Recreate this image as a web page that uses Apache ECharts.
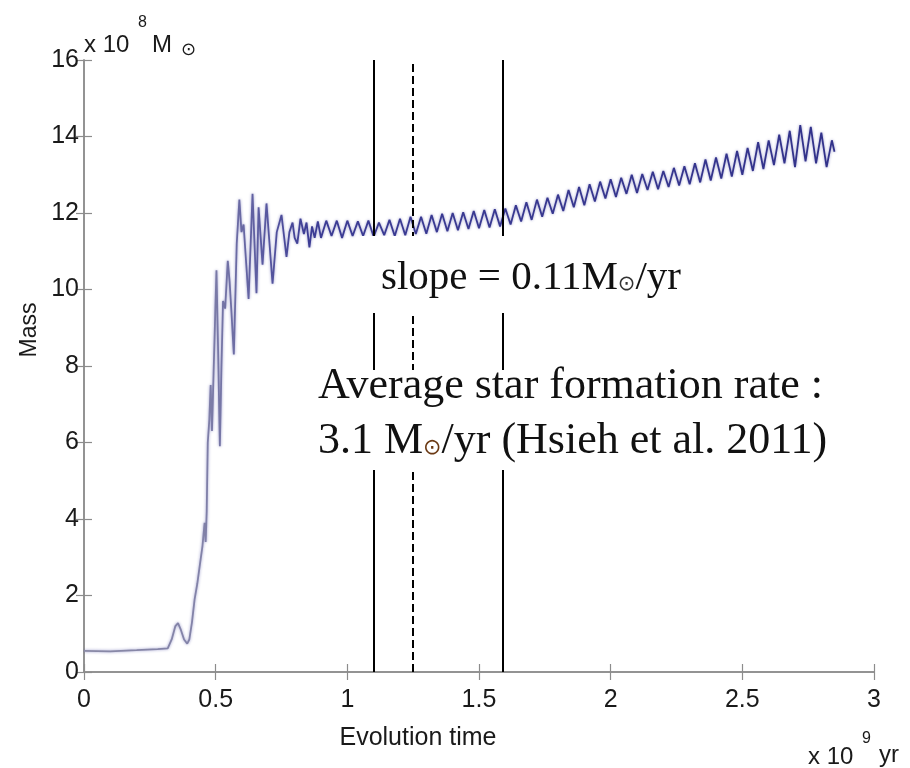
<!DOCTYPE html>
<html><head><meta charset="utf-8">
<script src="https://cdn.jsdelivr.net/npm/echarts@6/dist/echarts.min.js"></script>
<style>html,body{margin:0;padding:0;background:#fff}#c{width:910px;height:768px}</style>
</head><body><div id="c"></div>
<script>
// Evolution time (x 10^9 yr) and mass (x 10^8 Msun)
const riseTime = [0,0.1,0.2,0.28,0.318,0.333,0.347,0.357,0.368,0.38,0.392,0.4,0.41,0.42,0.43,0.44,0.45,0.458,0.462,0.466,0.47,0.476,0.481,0.486,0.492,0.503,0.509,0.516,0.522,0.528,0.536,0.546,0.553,0.56,0.569,0.58,0.59,0.598,0.606,0.625,0.64,0.655,0.663,0.678,0.693,0.716,0.732,0.75,0.769,0.78,0.792,0.80,0.81,0.822,0.835,0.845,0.856,0.866,0.876,0.888];
const riseMass = [0.55,0.54,0.57,0.6,0.62,0.85,1.2,1.28,1.1,0.85,0.74,0.85,1.3,1.9,2.3,2.8,3.3,3.9,3.4,4.2,6.0,6.6,7.5,6.3,7.8,10.5,8.5,5.9,8.0,9.7,9.5,10.75,10.2,9.4,8.3,11.2,12.35,11.5,11.7,9.75,12.5,9.9,12.15,10.65,12.25,10.15,11.5,11.95,10.85,11.5,11.75,11.35,11.2,11.85,11.45,11.75,11.1,11.65,11.35,11.78];

const plateauTime = [0.90,0.92,0.94,0.96,0.98,1.00,1.02,1.04,1.06,1.08,1.10,1.12,1.14,1.16,1.18,1.20,1.22,1.24,1.26,1.28,1.30,1.32,1.34,1.36,1.38,1.40,1.42,1.44,1.46,1.48,1.50,1.52,1.54,1.56,1.58,1.60];
const plateauMass = [11.35,11.8,11.4,11.8,11.35,11.8,11.4,11.78,11.4,11.8,11.38,11.75,11.42,11.82,11.4,11.85,11.42,11.9,11.45,11.9,11.46,11.95,11.5,11.98,11.52,12.0,11.55,12.02,11.58,12.05,11.6,12.08,11.62,12.1,11.65,12.12];

const climbTime = [1.62,1.64,1.66,1.68,1.70,1.72,1.74,1.76,1.78,1.80,1.82,1.84,1.86,1.88,1.90,1.92,1.94,1.96,1.98,2.00,2.02,2.04,2.06,2.08,2.10,2.12,2.14,2.16,2.18,2.20,2.22,2.24,2.26,2.28,2.30,2.32,2.34,2.36,2.38,2.40,2.42,2.44,2.46,2.48,2.50,2.52,2.54,2.56,2.58,2.60,2.62,2.64,2.66,2.68,2.70,2.72,2.74,2.76,2.78,2.80,2.82,2.84,2.85];
const climbMass = [11.7,12.2,11.78,12.28,11.82,12.35,11.9,12.4,11.98,12.48,12.05,12.6,12.15,12.68,12.2,12.75,12.3,12.82,12.38,12.88,12.42,12.92,12.5,13.0,12.52,13.02,12.6,13.08,12.62,13.1,12.68,13.18,12.72,13.22,12.75,13.3,12.8,13.4,12.85,13.45,12.9,13.55,12.95,13.62,13.0,13.7,13.1,13.85,13.15,13.9,13.25,14.05,13.3,14.15,13.2,14.3,13.35,14.25,13.3,14.1,13.2,13.9,13.6];

// Vertical reference lines (x 10^9 yr)
const markTimes = [1.105, 1.25, 1.592];
const markDashed = [false, true, false];

const xTickLabels = ['0','0.5','1','1.5','2','2.5','3'];
const yTickLabels = ['0','2','4','6','8','10','12','14','16'];

function zip(t, m) { const out = []; for (let i = 0; i < Math.min(t.length, m.length); i++) out.push([t[i], m[i]]); return out; }
const massData = zip(riseTime, riseMass).concat(zip(plateauTime, plateauMass), zip(climbTime, climbMass));

const chart = echarts.init(document.getElementById('c'), null, {renderer: 'canvas'});
const axisGrey = '#8c8c8c';
const tickFont = 'Liberation Sans, Arial, sans-serif';
const baseX = {
  type: 'value', min: 0, max: 3, interval: 0.5,
  axisLine: {show: true, lineStyle: {color: axisGrey, width: 1.5}},
  axisTick: {show: true, inside: true, length: 8, lineStyle: {color: axisGrey, width: 1.2}},
  splitLine: {show: false}
};
const baseY = {
  type: 'value', min: 0, max: 16, interval: 2,
  axisLine: {show: true, lineStyle: {color: axisGrey, width: 1.5}},
  axisTick: {show: true, inside: true, length: 8, lineStyle: {color: axisGrey, width: 1.2}},
  splitLine: {show: false}
};

const serif = 'Liberation Serif, Times New Roman, serif';
function txt(text, x, y, font, extra) {
  return {type: 'text', z: 110, style: Object.assign({text: text, x: x, y: y, font: font, fill: '#1a1a1a', textAlign: 'left', textVerticalAlign: 'middle'}, extra || {})};
}

const option = {
  animation: false,
  backgroundColor: '#ffffff',
  grid: {left: 84, right: 36, top: 60, bottom: 96},
  xAxis: [
    Object.assign({}, baseX, {position: 'bottom',
      axisLabel: {show: true, margin: 16, fontSize: 25, fontFamily: tickFont, color: '#1a1a1a',
        formatter: v => xTickLabels[Math.round(v / 0.5)] ?? ''}}),
    Object.assign({}, baseX, {position: 'top', axisLabel: {show: false}})
  ],
  yAxis: [
    Object.assign({}, baseY, {position: 'left',
      axisLabel: {show: true, margin: 5, fontSize: 25, fontFamily: tickFont, color: '#1a1a1a',
        formatter: v => yTickLabels[Math.round(v / 2)] ?? ''}}),
    Object.assign({}, baseY, {position: 'right', axisLabel: {show: false}})
  ],
  series: [{
    type: 'line', name: 'Mass', xAxisIndex: 0, yAxisIndex: 0,
    data: massData, showSymbol: false, symbol: 'none', smooth: false,
    lineStyle: {width: 1.8, shadowBlur: 3, shadowColor: 'rgba(70,70,160,0.55)',
      color: new echarts.graphic.LinearGradient(0, 0, 1, 0, [
      {offset: 0, color: '#8a8aa6'}, {offset: 0.16, color: '#8282a8'},
      {offset: 0.24, color: '#5a5aa0'}, {offset: 0.3, color: '#3c3c94'}, {offset: 1, color: '#32328a'}])},
    markLine: {
      silent: true, symbol: ['none', 'none'], label: {show: false}, animation: false,
      data: markTimes.map((t, i) => ({xAxis: t, lineStyle: {color: '#000', width: 2, shadowBlur: 0, type: markDashed[i] ? [8, 4] : 'solid'}}))
    },
    z: 3
  }],
  graphic: [
    // white text boxes covering the chart
    {type: 'rect', z: 100, shape: {x: 360, y: 236, width: 360, height: 77}, style: {fill: '#ffffff'}},
    {type: 'rect', z: 100, shape: {x: 300, y: 370, width: 552, height: 100}, style: {fill: '#ffffff'}},
    {type: 'text', z: 110, style: {
      text: '{a|slope = 0.11M}{b|⊙}{a|/yr}', x: 381, y: 278, textVerticalAlign: 'middle',
      rich: {a: {fontFamily: serif, fontSize: 41, fill: '#111'}, b: {fontFamily: 'DejaVu Sans', fontSize: 21, fill: '#333', padding: [14, 0, 0, 0]}}}},
    {type: 'text', z: 110, style: {
      text: 'Average star formation rate :', x: 318, y: 386, textVerticalAlign: 'middle',
      font: '44px ' + serif, fill: '#111'}},
    {type: 'text', z: 110, style: {
      text: '{a|3.1 M}{b|⊙}{a|/yr (Hsieh et al. 2011)}', x: 318, y: 441, textVerticalAlign: 'middle',
      rich: {a: {fontFamily: serif, fontSize: 44, fill: '#111'}, b: {fontFamily: 'DejaVu Sans', fontSize: 22, fill: '#6b3a14', padding: [15, 0, 0, 0]}}}},
    // axis unit texts
    txt('x 10', 84, 45, '24px ' + tickFont),
    txt('8', 138, 23, '16px ' + tickFont),
    txt('M', 152, 45, '24px ' + tickFont),
    txt('⊙', 181, 50, '18px DejaVu Sans'),
    txt('x 10', 808, 757, '24px ' + tickFont),
    txt('9', 862, 739, '16px ' + tickFont),
    txt('yr', 879, 755, '24px ' + tickFont),
    // axis names
    txt('Evolution time', 418, 738, '25px ' + tickFont, {textAlign: 'center'}),
    {type: 'text', z: 110, x: 30, y: 330, rotation: Math.PI / 2,
      style: {text: 'Mass', x: 0, y: 0, font: '23px ' + tickFont, fill: '#1a1a1a', textAlign: 'center', textVerticalAlign: 'middle'}}
  ]
};
chart.setOption(option);
</script>
</body></html>
